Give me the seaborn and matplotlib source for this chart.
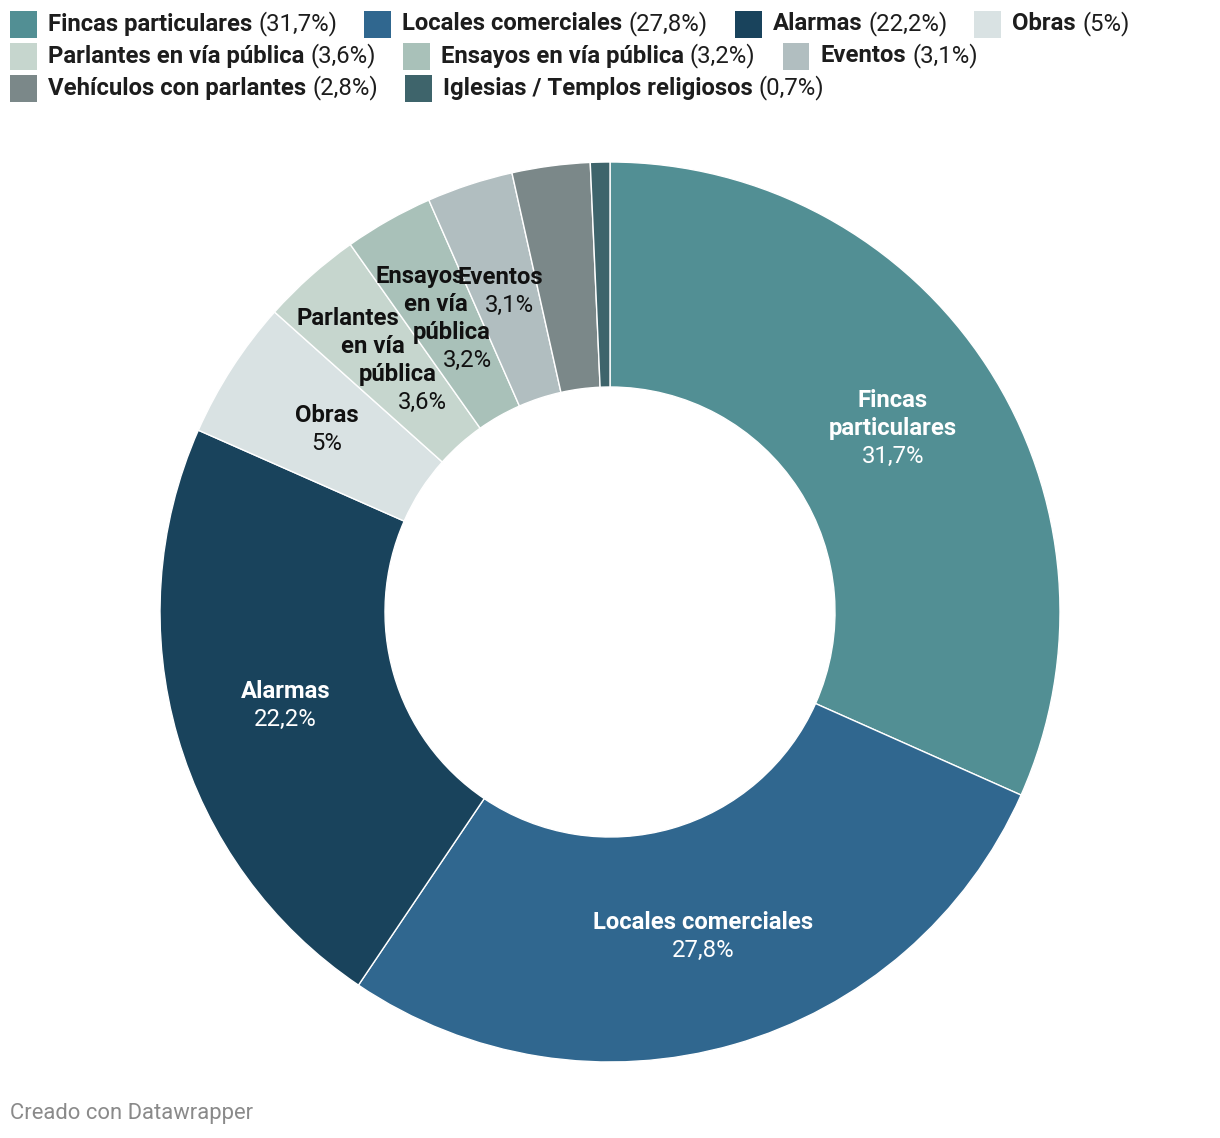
import matplotlib
matplotlib.use("Agg")
import matplotlib.pyplot as plt
from matplotlib.patches import Rectangle
import seaborn as sns
import math

sns.set_theme(style="white")
plt.rcParams['font.family'] = ['Roboto', 'DejaVu Sans']

# ---- data ----
categories = ["Fincas particulares", "Locales comerciales", "Alarmas", "Obras",
              "Parlantes en vía pública", "Ensayos en vía pública", "Eventos",
              "Vehículos con parlantes", "Iglesias / Templos religiosos"]
values = [31.7, 27.8, 22.2, 5.0, 3.6, 3.2, 3.1, 2.8, 0.7]
slice_labels = ["Fincas\nparticulares", "Locales comerciales", "Alarmas", "Obras",
                "Parlantes\nen vía\npública", "Ensayos\nen vía\npública", "Eventos",
                None, None]
colors = ["#528f94", "#30678f", "#19435c", "#d9e2e3", "#c6d6ce",
          "#a9c1b9", "#b1bec0", "#7b8889", "#3e646b"]
footer = "Creado con Datawrapper"

W, H = 1220, 1138
DPI = 100
fig = plt.figure(figsize=(W / DPI, H / DPI), dpi=DPI)
fig.patch.set_facecolor("white")

def fx(px):
    return px / W

def fy(py):
    return 1 - py / H

def fmt(v):
    return "{:g}".format(v).replace(".", ",") + "%"

palette = sns.color_palette(colors)

# ---- donut ----
cx, cy, R = 610, 612, 450
ax = fig.add_axes([fx(cx - R), fy(cy + R), 2 * R / W, 2 * R / H])
wedges, _ = ax.pie(values, colors=palette, startangle=90, counterclock=False,
                   radius=1.0,
                   wedgeprops=dict(width=0.5, edgecolor="white", linewidth=1.0))
ax.set_xlim(-1, 1)
ax.set_ylim(-1, 1)
ax.set_aspect("equal")
ax.axis("off")

total = sum(values)
cum = 0.0
line_px = 28
pt = 72 / DPI
fs_lab = 17.2
for v, lab, col in zip(values, slice_labels, colors):
    mid = cum + v / 2
    cum += v
    if lab is None:
        continue
    theta = math.radians(90 - 360 * mid / total)
    r = 0.75
    x, y = r * math.cos(theta), r * math.sin(theta)
    rgb = matplotlib.colors.to_rgb(col)
    lum = 0.2126 * rgb[0] + 0.7152 * rgb[1] + 0.0722 * rgb[2]
    tcol = "white" if lum < 0.6 else "#111111"
    lines = lab.split("\n")
    items = [(ln, "bold") for ln in lines] + [(fmt(v), "normal")]
    n = len(items)
    radial = v < 4
    for j, (txt, wt) in enumerate(items):
        d = (j - (n - 1) / 2) * line_px  # pixels downward
        dx = -d * math.cos(theta) / math.sin(theta) if radial else 0.0
        ax.annotate(txt, xy=(x, y), xytext=(dx * pt, -d * pt), textcoords="offset points",
                    ha="center", va="center", fontsize=fs_lab, fontweight=wt, color=tcol)

# ---- legend (flow layout) ----
fig.canvas.draw()
renderer = fig.canvas.get_renderer()
rows = [[0, 1, 2, 3], [4, 5, 6], [7, 8]]
row_y = [24, 56, 88]
sq = 27
gap_after = 27
fs_leg = 17.2
for row, yc in zip(rows, row_y):
    xpos = 10
    for i in row:
        fig.patches.append(Rectangle((fx(xpos), fy(yc + sq / 2)), sq / W, sq / H,
                                     transform=fig.transFigure, facecolor=colors[i],
                                     edgecolor="none"))
        t1 = fig.text(fx(xpos + 38), fy(yc), categories[i], fontsize=fs_leg,
                      fontweight="bold", color="#1d1d1d", va="center", ha="left")
        bb = t1.get_window_extent(renderer)
        t2 = fig.text(bb.x1 / W + fx(6), fy(yc), "(" + fmt(values[i]) + ")",
                      fontsize=fs_leg, fontweight="normal", color="#1d1d1d",
                      va="center", ha="left")
        bb2 = t2.get_window_extent(renderer)
        xpos = bb2.x1 + gap_after

fig.text(fx(10), fy(1114), footer, fontsize=15.8, color="#8a8a8a", va="center", ha="left")

fig.savefig("out.png", dpi=DPI, facecolor="white")
